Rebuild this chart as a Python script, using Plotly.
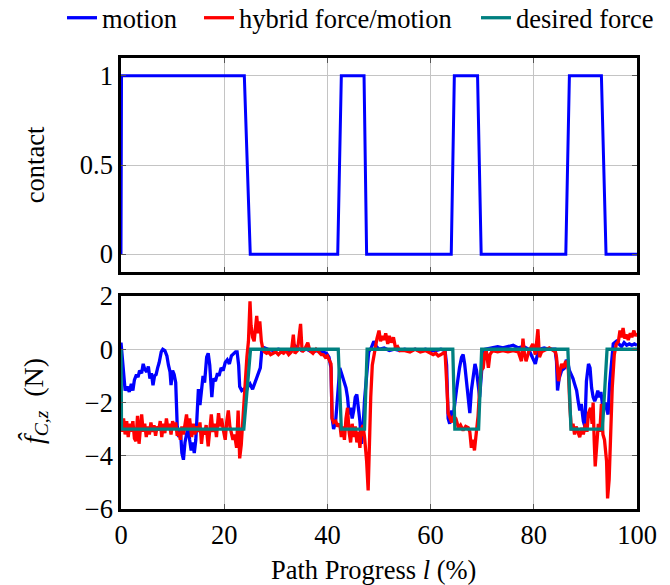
import plotly.graph_objects as go

# ---------------- data ----------------
contact_x = [0, 0.1, 23.9, 25.05, 42.0, 42.7, 47.1, 47.6, 64.0, 64.6, 69.1, 69.8, 86.2, 86.9, 93.1, 94.0, 100]
contact_y = [0, 1, 1, 0, 0, 1, 1, 0, 0, 1, 1, 0, 0, 1, 1, 0, 0]

desired_x = [0, 0.1, 23.8, 25.1, 42.1, 42.7, 47.2, 47.7, 64.3, 64.7, 69.3, 69.9, 86.6, 87.2, 93.3, 94.2, 100]
desired_y = [0, -3, -3, 0, 0, -3, -3, 0, 0, -3, -3, 0, 0, -3, -3, 0, 0]

motion_x = [0, 0.4, 0.8, 1.2, 1.6, 2.0, 2.3, 2.6, 3.0, 3.3, 3.6, 4.0, 4.3, 4.6, 5.0, 5.3, 5.6, 5.9,
            6.2, 6.5, 6.8, 7.1, 7.4, 7.8, 8.1, 8.5, 8.9, 9.2, 9.5, 9.7, 10.0, 10.3, 10.6, 10.9,
            11.2, 11.5, 11.8, 12.1, 12.4, 12.7, 13.0, 13.3, 13.6, 13.9, 14.2, 14.5, 14.8, 15.0,
            15.3, 15.6, 15.9, 16.2, 16.6, 16.9, 17.2, 17.6, 17.9, 18.3, 18.7, 19.0, 19.4, 19.8,
            20.2, 20.6, 21.0, 21.4, 21.8, 22.2, 22.5, 22.8, 23.0, 23.4, 23.8, 24.2, 24.6, 25.0,
            25.5, 26.0, 26.5, 27.0, 27.3, 27.8, 28.5, 29.5, 30.5, 31.5, 32.5, 33.0, 33.6, 34.2,
            35.0, 36.0, 37.0, 38.0, 39.0, 39.8, 40.3, 40.7, 40.9, 41.2, 41.6, 42.0, 42.4, 42.8,
            43.2, 43.6, 43.9, 44.2, 44.5, 44.8, 45.1, 45.4, 45.7, 46.0, 46.3, 46.6, 46.9, 47.2,
            47.6, 48.0, 48.5, 49.0, 49.5, 50, 51, 52, 53, 54, 55, 56, 57, 58, 59, 60, 61, 62,
            62.8, 63.1, 63.4, 63.7, 64.1, 64.4, 65.0, 65.3, 65.6, 66.0, 66.3, 66.6, 66.9, 67.3,
            67.6, 67.9, 68.3, 68.6, 68.9, 69.2, 69.5, 70.0, 70.3, 70.6, 72, 73, 74, 75, 76, 77,
            78, 79, 79.7, 80.3, 80.7, 81, 82, 83, 84.1, 84.4, 84.6, 84.9, 85.4, 86.0, 86.3, 86.6,
            86.9, 87.3, 87.6, 87.9, 88.3, 88.6, 88.9, 89.2, 89.6, 89.9, 90.2, 90.6, 90.9, 91.2,
            91.5, 91.8, 92.1, 92.4, 92.7, 93.0, 93.4, 93.8, 94.1, 94.4, 94.7, 95.1, 95.4, 96,
            96.5, 97, 97.5, 98, 98.5, 99, 99.5, 100]
motion_y = [0.25, -0.8, -1.55, -1.4, -1.6, -1.3, -1.55, -1.15, -0.95, -1.05, -0.8, -0.9, -0.55,
            -0.75, -0.85, -0.65, -1.1, -0.9, -1.35, -1.0, -0.95, -0.7, -0.5, -0.1, 0.0, -0.05,
            -0.25, -0.6, -0.85, -1.35, -0.8, -0.95, -1.25, -2.9, -3.3, -3.0, -3.9, -4.15, -3.5,
            -3.2, -2.9, -3.4, -3.8, -3.5, -3.9, -3.4, -2.3, -1.5, -2.1, -1.4, -1.0, -1.25, -0.3,
            -0.15, -0.6, -1.8, -1.1, -1.2, -0.9, -1.0, -0.7, -0.8, -0.5, -0.4, -0.55, -0.25,
            -0.15, -0.1, -0.1, -0.6, -1.4, -1.55, -1.5, -1.6, -1.4, -1.3, -1.5, -1.2, -0.9, -0.7,
            0.0, 0.05, 0.0, -0.05, 0.0, -0.05, -0.1, 0.0, 0.15, 0.05, -0.05, 0.0, -0.1, -0.05,
            -0.1, -0.15, -0.3, -0.7, -2.55, -3.0, -2.7, -1.5, -0.7, -0.95, -1.2, -1.45, -1.8,
            -2.45, -2.2, -2.6, -2.3, -1.8, -1.7, -2.2, -2.7, -3.55, -3.0, -1.9, -0.8, -0.1, 0.05,
            0.3, 0.1, 0.0, 0.05, -0.05, 0.0, -0.05, 0.0, -0.05, 0.0, -0.05, 0.0, -0.05, -0.05,
            0.0, -0.05, -0.6, -2.6, -2.8, -2.3, -2.5, -1.55, -1.0, -0.7, -0.3, -0.2, -0.55,
            -1.2, -1.8, -2.4, -1.55, -0.95, -0.55, -0.8, -1.2, -1.8, -0.55, -0.1, 0.0, 0.05,
            0.1, 0.05, 0.1, 0.15, 0.05, 0.1, 0.0, -0.3, -0.55, -0.2, 0.0, 0.05, 0.0, 0.0, -0.45,
            -1.55, -1.1, -0.8, -0.7, -0.4, -0.5, -0.8, -0.95, -1.1, -1.3, -1.55, -1.95, -2.3,
            -2.05, -2.7, -2.9, -1.2, -0.55, -0.7, -1.45, -1.8, -1.95, -1.8, -1.55, -1.8, -1.6,
            -2.2, -2.0, -2.3, -2.45, -1.3, -0.55, 0.2, 0.3, 0.2, 0.1, 0.25, 0.15, 0.2, 0.15, 0.2,
            0.15]

hybrid_x = [0, 0.2, 0.5, 0.8, 1.1, 1.4, 1.7, 2.0, 2.3, 2.6, 2.9, 3.2, 3.5, 3.8, 4.0, 4.3, 4.6,
            4.9, 5.2, 5.5, 5.8, 6.1, 6.4, 6.7, 7.0, 7.3, 7.6, 7.9, 8.2, 8.5, 8.8, 9.1, 9.4, 9.7,
            10.0, 10.3, 10.6, 10.9, 11.2, 11.5, 11.8, 12.1, 12.4, 12.7, 13.0, 13.3, 13.7, 14.0,
            14.3, 14.6, 15.0, 15.3, 15.6, 15.9, 16.2, 16.5, 16.9, 17.2, 17.5, 17.8, 18.2, 18.5,
            18.9, 19.2, 19.5, 19.8, 20.2, 20.5, 20.8, 21.1, 21.4, 21.7, 22.0, 22.4, 22.7, 23.0,
            23.3, 23.6, 23.8, 24.1, 24.4, 24.7, 25.0, 25.2, 25.5, 25.8, 26.1, 26.3, 26.6, 26.9,
            27.2, 27.5, 27.8, 28.2, 28.6, 29.0, 29.5, 30.0, 30.5, 31.0, 31.5, 32.0, 32.5, 33.0,
            33.4, 33.7, 34.2, 34.8, 35.1, 35.6, 36.2, 36.6, 37.2, 37.8, 38.3, 38.8, 39.2, 39.6,
            40.0, 40.4, 40.7, 40.9, 41.2, 41.6, 42.0, 42.4, 42.7, 43.0, 43.3, 43.6, 43.9, 44.2,
            44.5, 44.8, 45.1, 45.4, 45.7, 46.0, 46.3, 46.6, 46.9, 47.2, 47.6, 47.9, 48.1, 48.4,
            48.7, 49.0, 49.3, 49.6, 50.0, 50.3, 50.6, 51.0, 51.3, 51.7, 52.0, 52.4, 52.8, 53.2,
            53.6, 54, 55, 56, 57, 58, 59, 60, 60.5, 61, 61.5, 62, 62.5, 62.8, 63.1, 63.4, 63.8,
            64.1, 64.4, 64.9, 65.4, 65.8, 66.3, 66.8, 67.3, 67.6, 67.9, 68.2, 68.5, 68.8, 69.2,
            69.5, 69.8, 70.2, 70.5, 70.8, 71.2, 71.5, 72, 73, 74, 75, 76, 77, 77.6, 77.9, 78.2,
            78.5, 79, 79.8, 80.3, 80.8, 81.1, 81.5, 82, 83, 83.8, 84.2, 84.4, 84.8, 85.1, 85.4,
            85.8, 86.1, 86.4, 86.7, 87.0, 87.3, 87.6, 87.9, 88.2, 88.6, 88.9, 89.3, 89.6, 90.0,
            90.3, 90.6, 91.0, 91.3, 91.5, 91.7, 91.9, 92.2, 92.5, 92.8, 93.1, 93.4, 93.7, 94.1,
            94.3, 94.6, 94.9, 95.2, 95.6, 96.0, 96.4, 96.7, 97.0, 97.3, 97.6, 98.0, 98.3, 98.7,
            99.0, 99.4, 99.7, 100]
hybrid_y = [-2.8, -3.1, -2.6, -3.2, -2.7, -3.3, -2.8, -3.1, -2.7, -3.35, -3.45, -2.5, -3.55,
            -2.7, -2.45, -3.1, -2.8, -3.3, -2.9, -3.2, -2.75, -3.1, -2.85, -3.25, -2.9, -3.05,
            -2.7, -3.3, -2.8, -3.15, -2.6, -3.0, -2.8, -3.2, -2.7, -3.0, -2.75, -3.25, -3.1,
            -3.4, -2.9, -3.2, -2.7, -2.45, -3.0, -2.6, -3.3, -2.8, -3.2, -2.9, -3.1, -2.75,
            -3.55, -3.0, -3.2, -2.85, -3.65, -3.0, -2.45, -3.1, -2.8, -3.3, -2.4, -2.9, -2.6,
            -3.0, -3.4, -2.7, -2.3, -2.9, -3.1, -3.4, -3.2, -3.7, -2.3, -4.1, -3.6, -2.6, -1.9,
            -1.3, -0.3, 0.3, 1.8, 0.9, 0.45, 0.3, 0.8, 1.25, 0.6, 1.05, 0.3, 0.0, -0.1, -0.15,
            -0.1, -0.2, -0.15, -0.1, -0.2, -0.1, -0.15, -0.05, -0.2, -0.1, 0.55, -0.15, -0.05,
            0.95, -0.1, 0.0, 0.25, -0.05, -0.15, 0.0, -0.1, -0.2, -0.2, -0.3, -0.25, -0.4,
            -0.55, -2.6, -2.75, -2.7, -2.9, -2.8, -3.3, -2.9, -3.4, -2.6, -2.2, -3.1, -3.5,
            -2.8, -3.3, -2.9, -3.5, -3.1, -3.7, -3.0, -2.85, -3.3, -4.2, -5.3, -3.7, -1.8, -0.6,
            -0.2, 0.2, 0.4, 0.7, 0.3, 0.5, 0.35, 0.6, 0.2, 0.5, 0.25, 0.45, 0.05, 0.1, -0.05,
            -0.05, -0.1, 0.0, -0.1, -0.05, -0.15, -0.2, -0.15, -0.25, -0.2, -0.15, -0.1, -1.2,
            -2.4, -2.6, -2.75, -2.5, -2.6, -2.95, -2.85, -3.05, -2.9, -2.95, -3.1, -3.7, -3.4,
            -3.8, -3.2, -2.5, -1.5, -0.8, -0.7, -0.15, -0.05, -0.7, -0.2, -0.05, -0.1, -0.05,
            -0.1, -0.05, -0.1, -0.45, 0.4, -0.2, -0.45, -0.1, 0.2, -0.2, 0.75, -0.3, -0.1,
            -0.05, 0.05, -0.05, -0.1, -0.3, -1.2, -0.8, -0.55, -0.7, -0.5, -0.45, -0.8, -2.2,
            -3.05, -2.8, -3.2, -2.9, -3.1, -3.3, -2.95, -3.2, -2.8, -3.1, -2.4, -2.2, -2.8,
            -2.0, -3.4, -4.4, -3.6, -2.8, -3.1, -2.05, -3.2, -3.4, -4.2, -5.6, -4.9, -3.3, -1.45,
            -0.2, 0.2, 0.3, 0.7, 0.45, 0.8, 0.4, 0.55, 0.35, 0.6, 0.45, 0.7, 0.5, 0.6, 0.65]

top_ticks = [0, 0.5, 1]
top_ticklabels = ["0", "0.5", "1"]
bottom_ticks = [-6, -4, -2, 0, 2]
x_ticks = [0, 20, 40, 60, 80, 100]

BLUE = "#0000ff"
RED = "#ff0000"
TEAL = "#008080"
FONT = "'Liberation Serif', 'Times New Roman', 'DejaVu Serif', serif"
FS = 26.5

fig = go.Figure()

# top subplot: contact
fig.add_trace(go.Scatter(x=contact_x, y=contact_y, mode="lines", line=dict(color=BLUE, width=3),
                         xaxis="x2", yaxis="y2", showlegend=False))

# bottom subplot: forces
fig.add_trace(go.Scatter(x=motion_x, y=motion_y, mode="lines", name="motion", legend="legend",
                         line=dict(color=BLUE, width=3.3), xaxis="x", yaxis="y"))
fig.add_trace(go.Scatter(x=hybrid_x, y=hybrid_y, mode="lines", name="hybrid force/motion",
                         legend="legend2", line=dict(color=RED, width=3.3), xaxis="x", yaxis="y"))
fig.add_trace(go.Scatter(x=desired_x, y=desired_y, mode="lines", name="desired force",
                         legend="legend3", line=dict(color=TEAL, width=3.3), xaxis="x", yaxis="y"))

axis_common = dict(showline=True, linecolor="black", linewidth=2.5, mirror="allticks",
                   ticks="inside", ticklen=5, tickcolor="#555555", tickwidth=1,
                   showgrid=True, gridcolor="#c4c4c4", gridwidth=1, zeroline=False,
                   tickfont=dict(family=FONT, size=FS, color="black"))

H_TOP_DOM = [0.5255, 1.0]
H_BOT_DOM = [0.0, 0.4723]

LEG_Y = 1.0887
leg_common = dict(orientation="h", y=LEG_Y, yanchor="middle", xanchor="left",
                  font=dict(family=FONT, size=FS, color="black"), bgcolor="rgba(0,0,0,0)",
                  borderwidth=0)

fig.update_layout(
    width=670, height=585,
    margin=dict(l=121, r=33, t=58, b=76, autoexpand=False),
    paper_bgcolor="white", plot_bgcolor="white",
    font=dict(family=FONT, size=FS, color="black"),
    xaxis=dict(domain=[0, 1], range=[0, 100], tickvals=x_ticks, anchor="y", **axis_common),
    yaxis=dict(domain=H_BOT_DOM, range=[-6, 2], tickvals=bottom_ticks, anchor="x", **axis_common),
    xaxis2=dict(domain=[0, 1], range=[0, 100], tickvals=x_ticks, showticklabels=False,
                anchor="y2", **axis_common),
    yaxis2=dict(domain=H_TOP_DOM, range=[-0.1, 1.1], tickvals=top_ticks, ticktext=top_ticklabels,
                anchor="x2", **axis_common),
    legend=dict(x=-0.1143, **leg_common),
    legend2=dict(x=0.1512, **leg_common),
    legend3=dict(x=0.688, **leg_common),
    showlegend=True,
    annotations=[
        dict(text="contact", x=-0.166, y=0.763, xref="paper", yref="paper", textangle=-90,
             showarrow=False, font=dict(family=FONT, size=FS), xanchor="center", yanchor="middle"),
        dict(text="<i>f\u0302</i><sub><i>C,z</i></sub>\u2002(N)", x=-0.166, y=0.24, xref="paper",
             yref="paper", textangle=-90, showarrow=False, font=dict(family=FONT, size=28),
             xanchor="center", yanchor="middle"),
        dict(text="Path Progress <i>l</i> (%)", x=0.49, y=-0.135, xref="paper", yref="paper",
             showarrow=False, font=dict(family=FONT, size=FS), xanchor="center", yanchor="middle"),
    ],
)

fig.write_html("out.html")
